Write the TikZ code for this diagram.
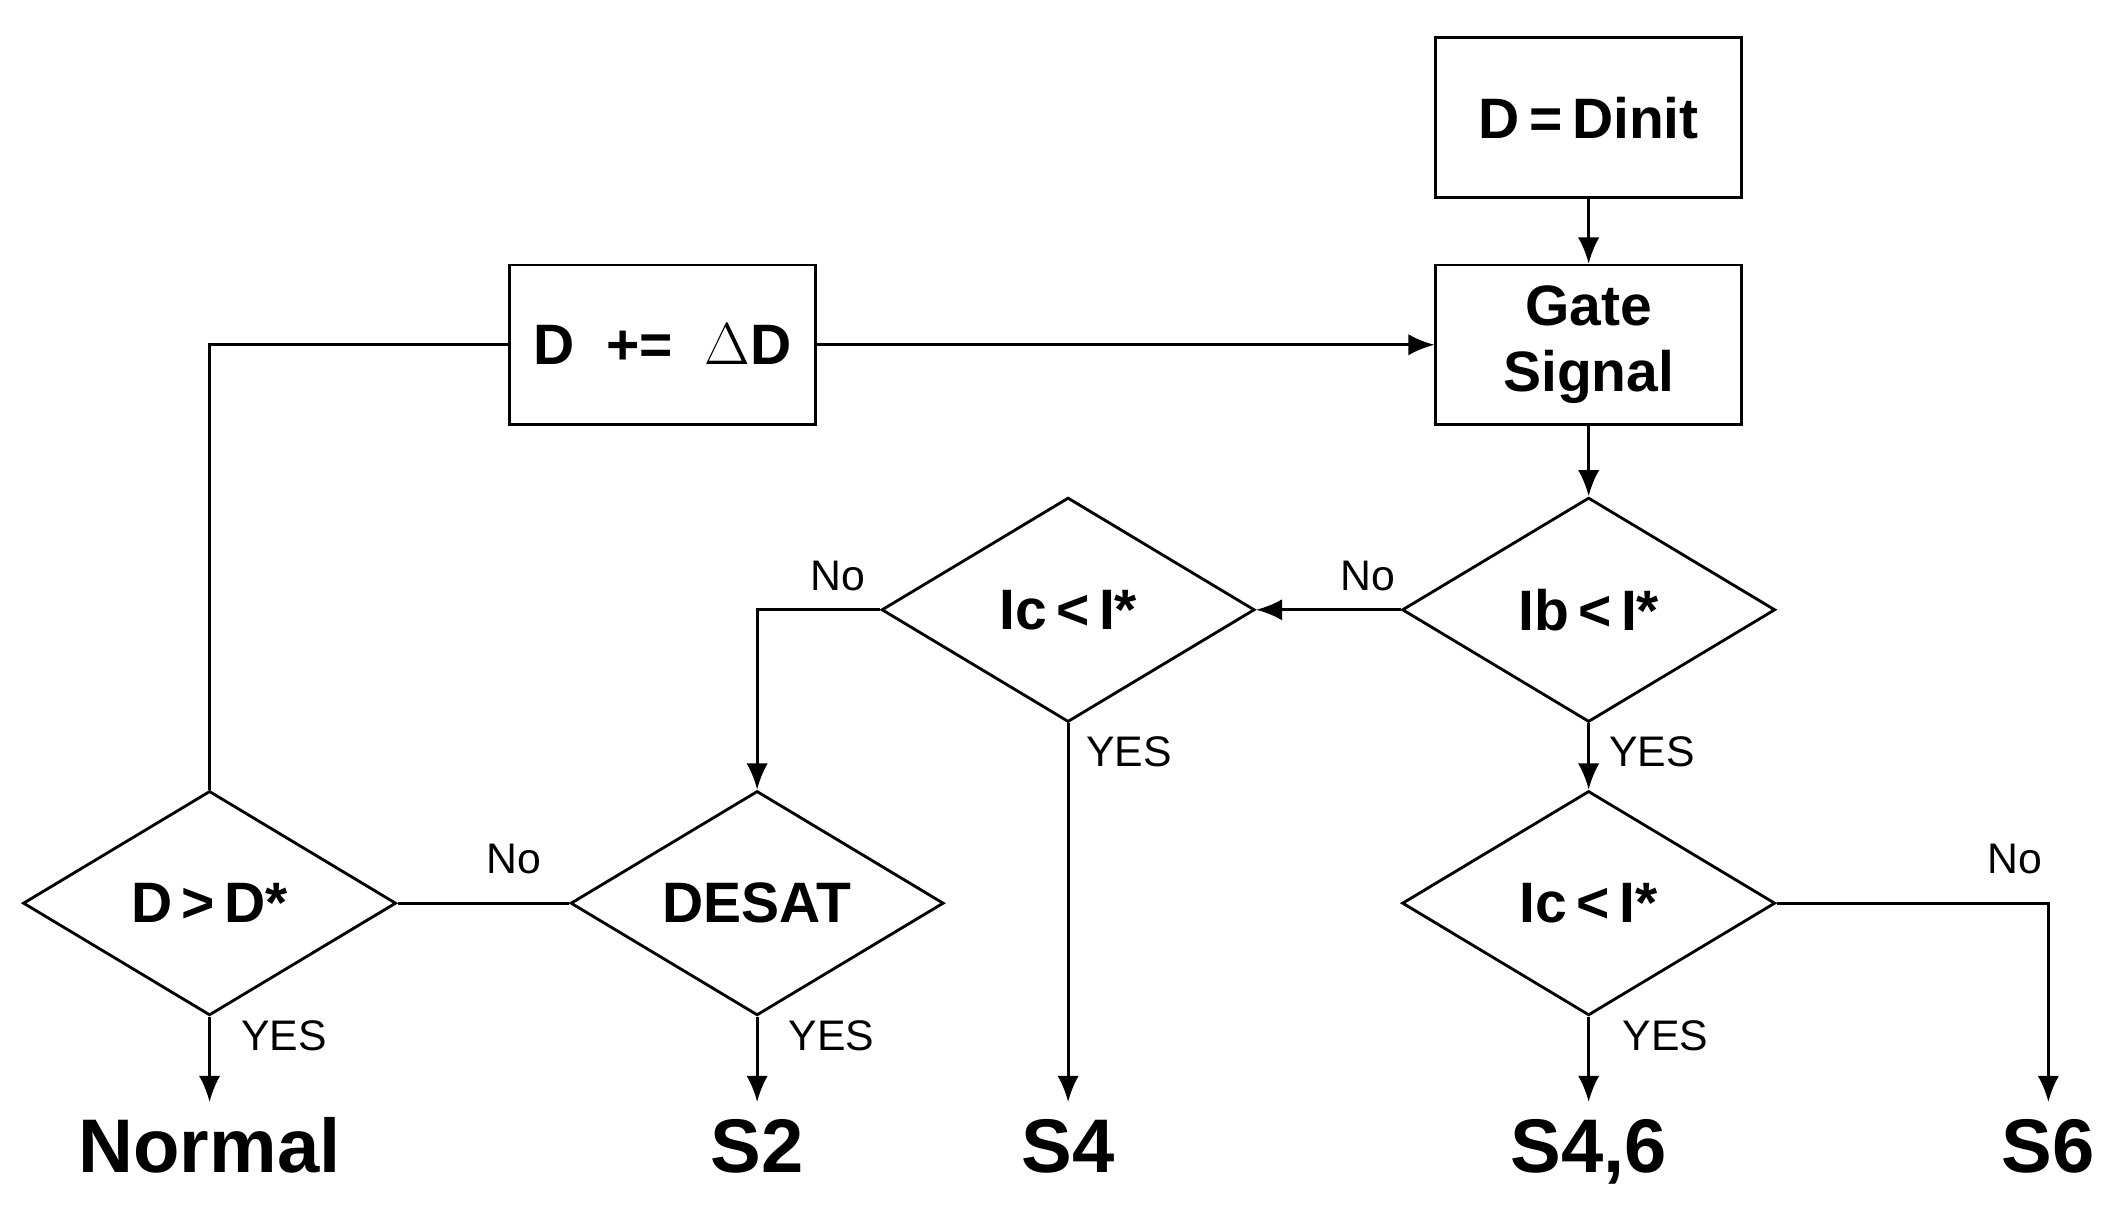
\documentclass[tikz,border=0pt]{standalone}
\usepackage{fontspec}
\setmainfont{Liberation Sans}
\usetikzlibrary{shapes.geometric,arrows.meta}
\begin{document}
\begin{tikzpicture}[x=0.02cm,y=-0.02cm,
 box/.style={draw,line width=1.2pt,minimum width=4.52cm,minimum height=2.36cm,inner sep=0pt,font=\fontsize{24}{26}\selectfont\bfseries,align=center},
 dia/.style={draw,diamond,line width=1.2pt,minimum width=5.52cm,minimum height=3.32cm,aspect=1.66,inner sep=0pt,font=\fontsize{24}{26}\selectfont\bfseries},
 lab/.style={font=\fontsize{18}{20}\selectfont},
 res/.style={font=\fontsize{32}{34}\selectfont\bfseries,text height=23pt,text depth=6pt},
 ln/.style={line width=1.2pt},
 ar/.style={ln,-{Latex[length=11pt,width=9pt]}}]
\useasboundingbox (0,0) rectangle (1568,900);
\node[box] (init) at (1175,87) {D\,=\,Dinit};
\node[box] (gate) at (1175,255) {Gate\\[2pt]Signal};
\node[box] (inc) at (490,255) {D\ \ +=\ \ $\Delta$D};
\node[dia] (ib) at (1175,451) {Ib\,<\,I*};
\node[dia] (icl) at (790,451) {Ic\,<\,I*};
\node[dia] (desat) at (560,668) {DESAT};
\node[dia] (dd) at (155,668) {D\,>\,D*};
\node[dia] (icr) at (1175,668) {Ic\,<\,I*};
\node[res] (normal) at (155,852) {Normal};
\node[res] (s2) at (560,852) {S2};
\node[res] (s4) at (790,852) {S4};
\node[res] (s46) at (1175,852) {S4,6};
\node[res] (s6) at (1515,852) {S6};
\coordinate (c1) at (1515,668);
\coordinate (c2) at (560,451);
\coordinate (c3) at (155,255);
\draw[ar] (init) -- (gate);
\draw[ar] (gate) -- (ib);
\draw[ar] (ib.west) -- (icl.east);
\draw[ar] (icl.west) -- (c2) -- (desat.north);
\draw[ar] (icl.south) -- (790,815);
\draw[ar] (ib.south) -- (icr.north);
\draw[ar] (icr.east) -- (c1) -- (1515,815);
\draw[ar] (icr.south) -- (1175,815);
\draw[ln] (desat.west) -- (dd.east);
\draw[ar] (desat.south) -- (560,815);
\draw[ar] (dd.south) -- (155,815);
\draw[ln] (dd.north) -- (c3) -- (inc.west);
\draw[ar] (inc.east) -- (gate.west);
\node[lab] at (1012,426) {No};
\node[lab] at (620,426) {No};
\node[lab] at (835,556) {YES};
\node[lab] at (1222,556) {YES};
\node[lab] at (1490,635) {No};
\node[lab] at (1232,766) {YES};
\node[lab] at (380,635) {No};
\node[lab] at (615,766) {YES};
\node[lab] at (210,766) {YES};
\end{tikzpicture}
\end{document}
